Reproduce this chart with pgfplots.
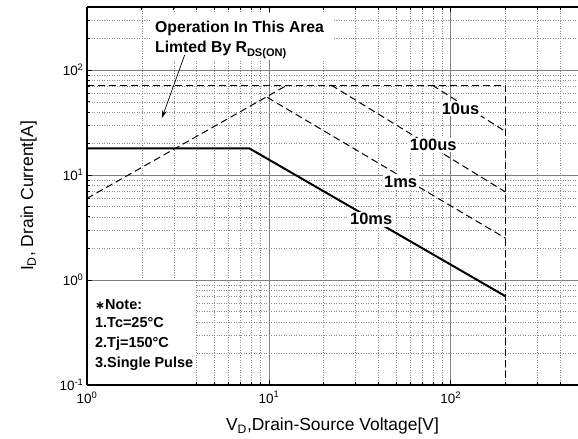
\documentclass[border=0pt]{standalone}
\usepackage{pgfplots}
\pgfplotsset{compat=1.18}
\usepackage{fontspec}
\setmainfont{Liberation Sans}
\newfontfamily\dejavu{DejaVu Sans}
\usetikzlibrary{arrows.meta}
\begin{document}
\begin{tikzpicture}
\begin{axis}[
  xmode=log, ymode=log,
  scale only axis, width=491bp, height=378bp,
  xmin=1, xmax=500, ymin=0.1, ymax=400,
  axis x line*=box, axis y line*=left,
  x axis line style={-, line width=2pt},
  y axis line style={-, line width=2pt},
  xtick={1,10,100},
  xticklabels={10\textsuperscript{0},10\textsuperscript{1},10\textsuperscript{2}},
  ytick={0.1,1,10,100},
  yticklabels={10\textsuperscript{-1},10\textsuperscript{0},10\textsuperscript{1},10\textsuperscript{2}},
  minor xtick={2,3,4,5,6,7,8,9,20,30,40,50,60,70,80,90,200,300,400,500},
  minor ytick={0.2,0.3,0.4,0.5,0.6,0.7,0.8,0.9,2,3,4,5,6,7,8,9,20,30,40,50,60,70,80,90,200,300,400},
  grid=both,
  major grid style={draw=black!50, line width=0.8pt, solid},
  minor grid style={draw=black!45, line width=0.5pt, dotted},
  tick align=inside,
  major tick length=5bp, minor tick length=3bp,
  tick style={black, line width=0.8pt},
  tick label style={font=\fontsize{13.5}{14}\selectfont},
  xticklabel style={yshift=-3bp},
  label style={font=\fontsize{17.5}{18}\selectfont},
  xlabel={V\textsubscript{D},Drain-Source Voltage[V]},
  ylabel={I\textsubscript{D}, Drain Current[A]},
  xlabel style={yshift=-8bp},
  ylabel style={yshift=16bp},
  clip=false,
]
% white boxes (cover the grid)
\fill[white] ([shift={(1.2bp,1.2bp)}]axis cs:1,0.1) rectangle (axis cs:3.9,0.97);
\fill[white] ([shift={(63bp,-6bp)}]rel axis cs:0,1) rectangle ([shift={(246bp,-53bp)}]rel axis cs:0,1);

% maximum current / voltage limit
\addplot[black, line width=1bp, dash pattern=on 7bp off 4bp] coordinates {(1,72) (200,72) (200,0.1)};
% R_DS(on) limit
\addplot[black, line width=1bp, dash pattern=on 7bp off 4bp] coordinates {(1,6) (12.6,72)};
% 10 us
\addplot[black, line width=1bp, dash pattern=on 7bp off 4bp] coordinates {(79,72) (200,26)};
% 100 us
\addplot[black, line width=1bp, dash pattern=on 7bp off 4bp] coordinates {(22,72) (200,6.9)};
% 1 ms
\addplot[black, line width=1bp, dash pattern=on 7bp off 4bp] coordinates {(9.8,55) (200,2.5)};
% 10 ms
\addplot[black, line width=2bp] coordinates {(1,18) (7.8,18) (200,0.7)};

\node[fill=white, inner sep=1.5bp, font=\fontsize{16.5}{16}\selectfont\bfseries] at (axis cs:113,43) {10us};
\node[fill=white, inner sep=1.5bp, font=\fontsize{16.5}{16}\selectfont\bfseries] at (axis cs:80,19.3) {100us};
\node[fill=white, inner sep=1.5bp, font=\fontsize{16.5}{16}\selectfont\bfseries] at (axis cs:53,8.6) {1ms};
\node[fill=white, inner sep=1.5bp, font=\fontsize{16.5}{16}\selectfont\bfseries] at (axis cs:36.5,3.8) {10ms};

\node[anchor=base west, inner sep=0pt, font=\fontsize{15.8}{16}\selectfont\bfseries] at ([shift={(68bp,-26bp)}]rel axis cs:0,1) {Operation In This Area};
\node[anchor=base west, inner sep=0pt, font=\fontsize{15.8}{16}\selectfont\bfseries] at ([shift={(68bp,-46bp)}]rel axis cs:0,1) {Limted By R\textsubscript{DS(ON)}};
\draw[-{Stealth[length=8bp,width=4.5bp]}, line width=0.7pt] (axis cs:3.44,139) -- (axis cs:2.58,34.9);

\node[anchor=base west, inner sep=0pt, font=\fontsize{14.5}{15}\selectfont\bfseries] at ([shift={(8bp,75bp)}]rel axis cs:0,0) {{\dejavu\fontsize{12}{12}\selectfont ∗}Note:};
\node[anchor=base west, inner sep=0pt, font=\fontsize{14.5}{15}\selectfont\bfseries] at ([shift={(8bp,57bp)}]rel axis cs:0,0) {1.Tc=25°C};
\node[anchor=base west, inner sep=0pt, font=\fontsize{14.5}{15}\selectfont\bfseries] at ([shift={(8bp,37bp)}]rel axis cs:0,0) {2.Tj=150°C};
\node[anchor=base west, inner sep=0pt, font=\fontsize{14.5}{15}\selectfont\bfseries] at ([shift={(8bp,17bp)}]rel axis cs:0,0) {3.Single Pulse};

\coordinate (sw) at (rel axis cs:0,0);
\coordinate (ne) at (rel axis cs:1,1);
\end{axis}
\pgfresetboundingbox
\path[use as bounding box] ([shift={(-87bp,-54bp)}]sw) rectangle ([shift={(0bp,7bp)}]ne);
\end{tikzpicture}
\end{document}
